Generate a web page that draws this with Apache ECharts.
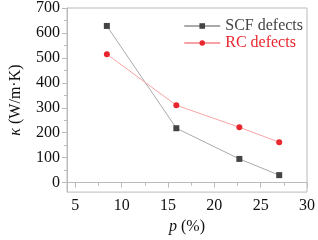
<!DOCTYPE html>
<html><head><meta charset="utf-8">
<script src="https://cdn.jsdelivr.net/npm/echarts@6/dist/echarts.min.js"></script>
<style>html,body{margin:0;padding:0;background:#fff}#c{width:318px;height:240px}</style>
</head><body><div id="c"></div>
<script>
const xValues = [8.4, 15.9, 22.7, 27.0];
const scfValues = [628, 218, 95, 30];
const rcValues = [515, 310, 222, 162];
const xTicks = [5, 10, 15, 20, 25, 30];
const xMinor = [7.5, 12.5, 17.5, 22.5, 27.5];
const yTicks = [0, 100, 200, 300, 400, 500, 600, 700];
const yMinor = [50, 150, 250, 350, 450, 550, 650];

const font = 'Liberation Serif';
const axisCol = '#bbb';
const xMin = 4.1, xMax = 30, yMin = -38, yMax = 700;
const fs = 16;
const richT = {t: {fontFamily: font, fontSize: fs, color: '#111'}};

function labelFor(list) {
  return function (v) {
    for (const t of list) if (Math.abs(v - t) < 1e-6) return '{t|' + t + '}';
    return '';
  };
}

const chart = echarts.init(document.getElementById('c'), null, {renderer: 'canvas'});
chart.setOption({
  animation: false,
  textStyle: {fontFamily: font, fontSize: fs},
  grid: {left: 53, right: 9, top: 5, bottom: 38, show: true, borderColor: axisCol, borderWidth: 1},
  legend: {
    right: 10, top: 13, orient: 'vertical', itemGap: 1, itemWidth: 36, itemHeight: 7,
    data: [
      {name: 'SCF defects', textStyle: {color: '#444'}},
      {name: 'RC defects', textStyle: {color: '#e8262e'}}
    ],
    textStyle: {fontFamily: font, fontSize: fs}
  },
  xAxis: [{
    type: 'value', min: xMin, max: xMax, interval: 0.1,
    axisLine: {lineStyle: {color: axisCol}},
    axisTick: {show: true, length: 5, lineStyle: {color: axisCol}, customValues: xTicks},
    axisLabel: {formatter: labelFor(xTicks), rich: richT, color: '#111', fontFamily: font, fontSize: fs, margin: 6},
    splitLine: {show: false},
    name: '{i|p} (%)', nameLocation: 'middle', nameGap: 24,
    nameTextStyle: {color: '#111', fontFamily: font, fontSize: fs, rich: {i: {fontStyle: 'italic', fontFamily: font, fontSize: fs}}}
  }, {
    type: 'value', min: xMin, max: xMax, position: 'bottom',
    axisLine: {show: false},
    axisTick: {show: true, length: 3, lineStyle: {color: axisCol}, customValues: xMinor},
    axisLabel: {show: false}, splitLine: {show: false}
  }],
  yAxis: [{
    type: 'value', min: yMin, max: yMax, interval: 2,
    axisLine: {show: true, lineStyle: {color: axisCol}},
    axisTick: {show: true, length: 5, lineStyle: {color: axisCol}, customValues: yTicks},
    axisLabel: {formatter: labelFor(yTicks), rich: richT, color: '#111', fontFamily: font, fontSize: fs, margin: 7},
    splitLine: {show: false},
    name: '{i|κ} (W/m·K)', nameLocation: 'middle', nameGap: 43,
    nameTextStyle: {color: '#111', fontFamily: font, fontSize: fs, rich: {i: {fontStyle: 'italic', fontFamily: font, fontSize: fs}}}
  }, {
    type: 'value', min: yMin, max: yMax, position: 'left',
    axisLine: {show: false},
    axisTick: {show: true, length: 3, lineStyle: {color: axisCol}, customValues: yMinor},
    axisLabel: {show: false}, splitLine: {show: false}
  }],
  series: [{
    name: 'SCF defects', type: 'line',
    data: xValues.map((x, i) => [x, scfValues[i]]),
    symbol: 'rect', symbolSize: 6,
    lineStyle: {color: '#aaa', width: 1},
    itemStyle: {color: '#444'}
  }, {
    name: 'RC defects', type: 'line',
    data: xValues.map((x, i) => [x, rcValues[i]]),
    symbol: 'circle', symbolSize: 6,
    lineStyle: {color: '#f7a3a6', width: 1},
    itemStyle: {color: '#e8262e'}
  }]
});
</script></body></html>
